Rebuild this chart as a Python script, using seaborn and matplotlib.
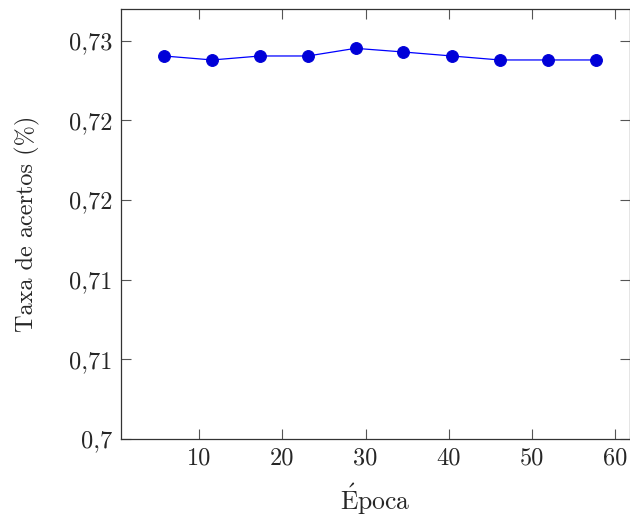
import matplotlib
matplotlib.use("Agg")
import matplotlib.pyplot as plt
import seaborn as sns
import pandas as pd

epochs = [5.76, 11.56, 17.32, 23.05, 28.78, 34.54, 40.34, 46.10, 51.86, 57.62]
accuracy = [0.72404, 0.72379, 0.72404, 0.72404, 0.72452, 0.72429, 0.72404, 0.72379, 0.72379, 0.72379]
x_ticks = [10, 20, 30, 40, 50, 60]
y_ticks = [0.700, 0.705, 0.710, 0.715, 0.720, 0.725]
y_tick_labels = ["0,7", "0,71", "0,71", "0,72", "0,72", "0,73"]

sns.set_style("ticks")
plt.rcParams['font.family'] = ['cmr10', 'DejaVu Serif']
plt.rcParams['mathtext.fontset'] = 'cm'

df = pd.DataFrame({"Época": epochs, "Taxa": accuracy})

fig = plt.figure(figsize=(6.3, 5.17), dpi=100)
ax = fig.add_axes([121/630, 1-439/517, (629.5-121)/630, (439-9.3)/517])
sns.lineplot(data=df, x="Época", y="Taxa", ax=ax, color="#0000ff", linewidth=0.9,
             marker="o", markersize=8.5, markerfacecolor="#0000d8", markeredgecolor="#0000d8")

ax.set_xlim(0.6, 61.7)
ax.set_ylim(0.7, 0.72697)
ax.set_xticks(x_ticks)
ax.set_xticklabels([str(t) for t in x_ticks])
ax.set_yticks(y_ticks)
ax.set_yticklabels(y_tick_labels)
ax.tick_params(direction="in", length=7.5, width=0.8, color="#555555",
               top=True, right=True, labelsize=17.5, pad=6)
for s in ax.spines.values():
    s.set_color("#333333")
    s.set_linewidth(0.9)
ax.set_xlabel(r"$\mathrm{\acute{E}poca}$", fontsize=18.5, labelpad=9)
ax.set_ylabel("Taxa de acertos (%)", fontsize=17.5, labelpad=21)
ax.grid(False)
fig.savefig("out.png", dpi=100)
